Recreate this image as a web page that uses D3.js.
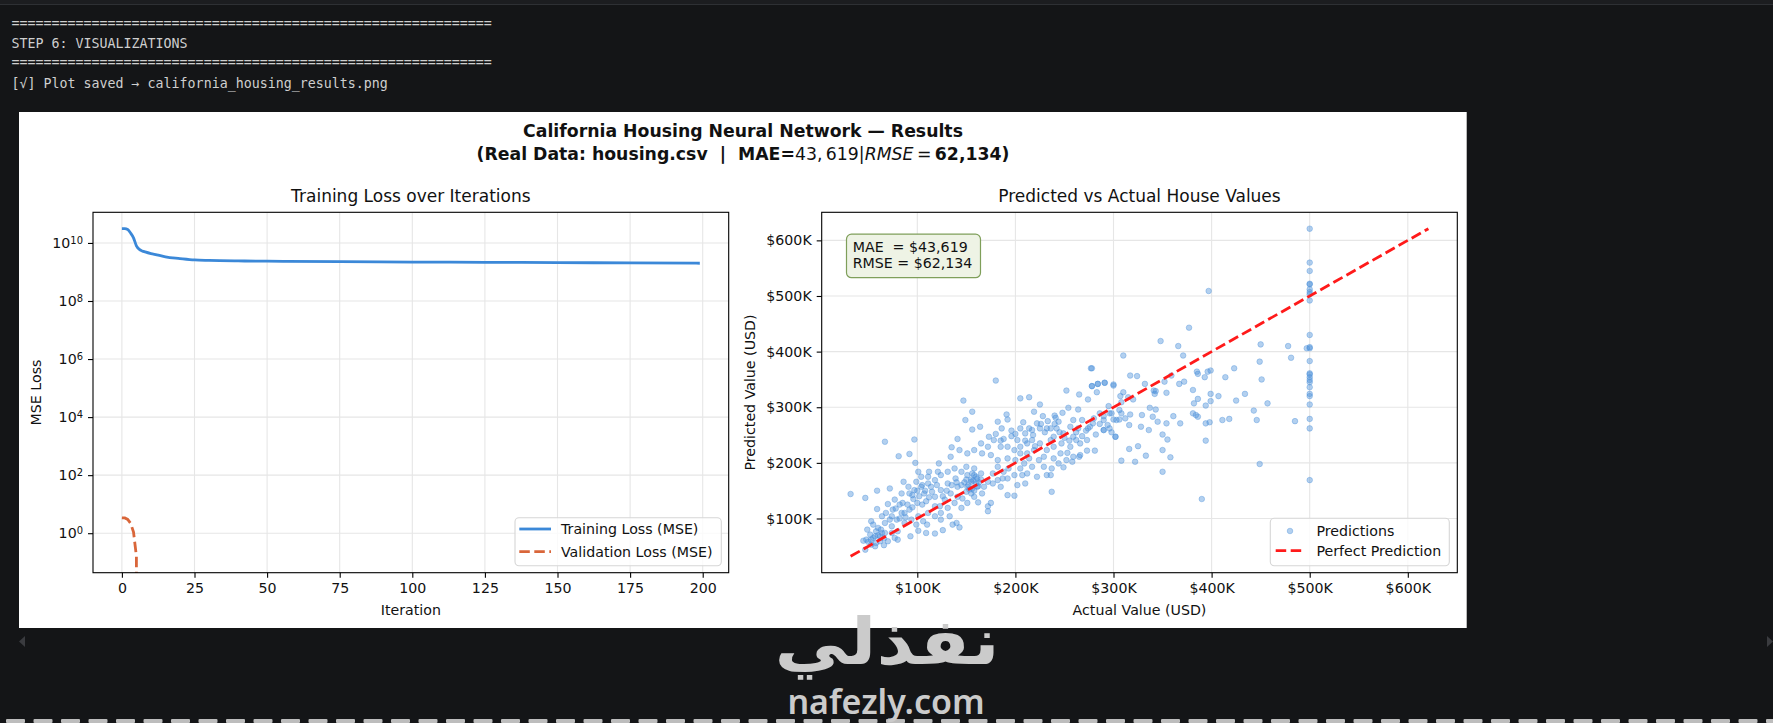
<!DOCTYPE html>
<html lang="en">
<head>
<meta charset="UTF-8">
<title>California Housing Neural Network — Results</title>
<script src="https://cdn.jsdelivr.net/npm/d3@7"></script>
<style>
  html, body { margin: 0; padding: 0; background: #141517; overflow: hidden; }
  svg { display: block; }
  .term { font-family: "DejaVu Sans Mono", monospace; font-size: 13.3px; fill: #cfcfcf; white-space: pre; }
  .fig text { font-family: "DejaVu Sans", sans-serif; fill: #111; white-space: pre; }
</style>
</head>
<body>
<svg id="chart" width="1773" height="723"></svg>
<script>
// ---------- data ----------
const termLines = [
  "============================================================",
  "STEP 6: VISUALIZATIONS",
  "============================================================",
  "[\u221a] Plot saved \u2192 california_housing_results.png"
];

// training / validation loss (log scale)
const iterTrain = [0, 1, 2, 3, 4, 5, 6, 7, 8, 10, 12, 15, 20, 25, 30, 40, 50, 75, 100, 125, 150, 175, 199];
const lossTrain = [3.1e10, 3.1e10, 2.9e10, 2.2e10, 1.5e10, 8e9, 6e9, 5.3e9, 4.9e9, 4.3e9, 3.9e9, 3.3e9,
                   2.9e9, 2.6e9, 2.5e9, 2.4e9, 2.35e9, 2.28e9, 2.2e9, 2.15e9, 2.1e9, 2.05e9, 2.0e9];
const iterVal  = [0, 1, 2, 3, 4, 5, 6];
const lossVal  = [3.4, 3.35, 3.0, 2.2, 1.1, 0.16, 0];
const iterTicks = [0, 25, 50, 75, 100, 125, 150, 175, 200];
const lossTicks = [1e0, 1e2, 1e4, 1e6, 1e8, 1e10];
const lossNames = ["Training Loss (MSE)", "Validation Loss (MSE)"];

// predicted vs actual, in $K : [actual, predicted]
const housePts = [
  [32,144],[47,137],[67,238],[97,242],[81,212],[92,216],[59,150],[72,154],[98,200],[147,312],[180,348],[156,292],
  [149,277],[164,265],[156,260],[141,243],[135,228],[143,223],[122,199],[134,211],[151,217],[277,370],[252,330],
  [265,323],[278,338],[284,342],[291,344],[300,339],[283,327],[274,314],[205,316],[214,318],[225,305],[219,292],
  [191,287],[192,278],[182,274],[173,247],[180,252],[188,243],[200,252],[208,273],[228,284],[233,275],[241,281],
  [244,274],[254,299],[264,296],[259,277],[274,262],[282,251],[290,259],[302,247],[273,241],[262,241],[253,218],
  [273,222],[265,211],[258,202],[249,192],[237,190],[232,178],[222,175],[212,181],[202,160],[192,142],[199,141],
  [237,148],[187,172],[177,181],[182,193],[192,208],[205,217],[217,241],[225,262],[239,247],[229,211],[217,193],
  [205,190],[199,178],[175,128],[172,122],[162,129],[172,113],[140,92],[143,84],[136,89],[126,79],[118,73],
  [133,104],[123,122],[110,89],[101,78],[93,68],[80,62],[66,52],[57,50],[45,60],[47,44],[53,53],[49,80],[53,95],
  [59,117],[70,126],[75,116],[84,110],[92,116],[85,128],[96,135],[84,145],[91,157],[86,166],[99,166],[104,175],
  [101,184],[111,175],[114,157],[107,145],[109,131],[118,139],[124,151],[131,163],[139,172],[150,193],[158,190],
  [165,181],[161,157],[155,145],[151,128],[145,119],[146,136],[158,139],[166,145],[161,172],[155,166],[151,157],
  [141,157],[134,145],[128,134],[118,122],[111,110],[101,104],[94,98],[87,92],[79,98],[74,86],[67,74],[62,68],
  [60,83],[67,92],[74,104],[64,104],[57,68],[52,71],[48,62],[62,59],[70,59],[77,65],[58,77],[53,62],[64,74],
  [55,89],[74,74],[80,77],[87,110],[82,125],[77,134],[92,145],[97,151],[104,157],[111,163],[118,169],[124,178],
  [112,184],[121,184],[131,184],[138,190],[145,184],[151,178],[156,181],[160,163],[156,154],[150,148],[141,139],
  [131,119],[138,128],[124,110],[118,104],[106,95],[99,89],[109,74],[124,98],[168,157],[172,166],[177,163],
  [182,169],[188,184],[182,205],[175,214],[166,217],[158,223],[165,235],[172,229],[178,241],[185,229],[192,229],
  [199,223],[205,229],[212,235],[202,241],[210,253],[217,259],[222,271],[232,262],[242,262],[249,253],[256,265],
  [264,262],[268,277],[279,271],[290,277],[296,289],[303,277],[247,235],[256,229],[246,217],[239,208],[229,193],
  [224,205],[214,208],[209,199],[200,205],[193,190],[207,178],[210,163],[192,172],[185,157],[232,223],[239,229],
  [225,235],[236,241],[219,223],[212,217],[259,211],[252,205],[266,214],[244,199],[236,178],[259,247],[266,235],
  [152,160],[155,170],[158,150],[160,175],[163,165],[148,165],[153,152],[157,168],[162,158],[150,170],[165,170],
  [158,178],[55,65],[60,70],[50,58],[63,80],[58,56],[66,64],[102,140],[108,150],[100,128],[95,120],[112,138],
  [105,125],
  [226,270],[230,255],[236,262],[240,270],[245,255],[250,245],[255,240],[262,255],[268,248],[272,258],[276,265],
  [280,280],[286,270],[294,268],[298,255],[240,285],[248,290],[218,250],[214,262],[205,262],[196,258],[186,262],
  [185,240],[196,248],[210,240],[220,230],
  [68,110],[72,98],[78,118],[82,100],[88,102],[90,125],[95,142],[100,150],[105,160],[115,148],[120,160],[126,140],
  [130,150],[135,160],[140,165],[145,160],
  [500,621],[500,560],[500,545],[500,522],[500,521],[500,512],[500,507],[500,503],[500,492],[500,430],[500,408],
  [500,406],[500,383],[500,361],[500,359],[500,354],[500,349],[500,345],[500,336],[500,324],[500,320],[500,305],
  [500,279],[500,262],[500,169],[497,406],[478,410],[481,389],[485,275],
  [397,509],[377,443],[348,419],[366,410],[371,393],[310,393],[450,413],[449,382],[451,350],[423,370],[414,354],
  [457,307],[434,324],[425,312],[407,320],[399,324],[399,311],[394,303],[385,364],[386,360],[396,364],[399,366],
  [393,354],[381,331],[386,315],[382,307],[381,289],[384,286],[386,283],[394,271],[398,273],[411,277],[418,279],
  [443,294],[446,277],[449,198],[390,135],[394,240],[367,342],[372,346],[359,357],[352,346],[354,326],[343,329],
  [341,330],[342,324],[332,342],[317,357],[324,356],[300,341],[291,344],[284,342],[278,338],[278,370],[310,327],
  [307,320],[315,318],[320,314],[308,309],[306,295],[308,289],[306,278],[312,280],[317,287],[316,268],[329,286],
  [328,265],[337,299],[343,296],[340,283],[345,274],[354,271],[361,284],[368,271],[336,259],[350,251],[355,242],
  [358,210],[350,223],[350,184],[333,213],[325,230],[316,225],[308,204],[322,202],[302,247],[290,259],[281,222],
  [290,284],[300,278],[298,289],[295,302],[286,289],[296,262]
];
const priceTicks = [100, 200, 300, 400, 500, 600];
const houseNames = ["Predictions", "Perfect Prediction"];
const maeUSD = 43619, rmseUSD = 62134;

// ---------- drawing ----------
const svg = d3.select("#chart");
const W = 1773, H = 723;
const fmt = d3.format(",");
const TICK = 14.2;

// terminal chrome
svg.append("rect").attr("width", W).attr("height", 4).attr("fill", "#1c1d20");
svg.append("line").attr("x1", 0).attr("x2", W).attr("y1", 4.5).attr("y2", 4.5)
  .attr("stroke", "#2e3034").attr("stroke-width", 1);
svg.selectAll("text.term").data(termLines).join("text")
  .attr("class", "term")
  .attr("x", 11.5)
  .attr("y", (d, i) => [28, 48, 67, 88][i])
  .text(d => d);

// white figure
const fig = svg.append("g").attr("class", "fig");
fig.append("rect").attr("x", 19).attr("y", 112).attr("width", 1447.7).attr("height", 516).attr("fill", "#fff");

// super title
fig.append("text").attr("x", 743).attr("y", 137).attr("text-anchor", "middle")
  .attr("font-size", 17.3).attr("font-weight", "bold")
  .text("California Housing Neural Network \u2014 Results");
const sub = fig.append("text").attr("x", 743).attr("y", 159.5).attr("text-anchor", "middle").attr("font-size", 17.3);
sub.append("tspan").attr("font-weight", "bold").text("(Real Data: housing.csv  |  MAE=");
sub.append("tspan").text(fmt(maeUSD).replace(",", ",\u2009") + "|");
sub.append("tspan").attr("font-style", "italic").text("RMSE");
sub.append("tspan").text("\u2009=\u2009");
sub.append("tspan").attr("font-weight", "bold").text(fmt(rmseUSD) + ")");

function styleAxis(g) {
  g.select(".domain").remove();
  g.selectAll(".tick line").attr("stroke", "#000").attr("stroke-width", 1.1);
  g.selectAll(".tick text").attr("font-size", TICK).attr("fill", "#111");
}

// ===== left: loss =====
const L = { x0: 93, x1: 728.7, y0: 212.3, y1: 572.7 };
const xIt = d3.scaleLinear().domain([0 - 0.05 * 199, 199 + 0.05 * 199]).range([L.x0, L.x1]);
const allLoss = lossTrain.concat(lossVal).filter(v => v > 0);
const lgMin = Math.log10(d3.min(allLoss)), lgMax = Math.log10(d3.max(allLoss));
const lgPad = 0.05 * (lgMax - lgMin);
const yLoss = d3.scaleLog().domain([10 ** (lgMin - lgPad), 10 ** (lgMax + lgPad)]).range([L.y1, L.y0]);

const gl = fig.append("g");
gl.append("clipPath").attr("id", "clipL").append("rect")
  .attr("x", L.x0).attr("y", L.y0).attr("width", L.x1 - L.x0).attr("height", L.y1 - L.y0);
gl.selectAll("line.gx").data(iterTicks).join("line")
  .attr("x1", d => xIt(d)).attr("x2", d => xIt(d)).attr("y1", L.y0).attr("y2", L.y1)
  .attr("stroke", "#e6e6e6").attr("stroke-width", 1.1);
gl.selectAll("line.gy").data(lossTicks).join("line")
  .attr("x1", L.x0).attr("x2", L.x1).attr("y1", d => yLoss(d)).attr("y2", d => yLoss(d))
  .attr("stroke", "#e6e6e6").attr("stroke-width", 1.1);

const lineT = d3.line().x((d, i) => xIt(iterTrain[i])).y(d => yLoss(d)).curve(d3.curveMonotoneX);
const lineV = d3.line().x((d, i) => xIt(iterVal[i])).y(d => yLoss(Math.max(d, 1e-300)));
gl.append("path").attr("d", lineT(lossTrain)).attr("fill", "none")
  .attr("stroke", "#3b88d8").attr("stroke-width", 2.8).attr("clip-path", "url(#clipL)");
gl.append("path").attr("d", lineV(lossVal)).attr("fill", "none")
  .attr("stroke", "#d9663a").attr("stroke-width", 2.8).attr("stroke-dasharray", "10.5,4.5")
  .attr("clip-path", "url(#clipL)");

gl.append("g").attr("transform", `translate(0,${L.y1})`)
  .call(d3.axisBottom(xIt).tickValues(iterTicks).tickSize(5).tickPadding(5).tickFormat(d3.format("d")))
  .call(styleAxis);
const ayl = gl.append("g").attr("transform", `translate(${L.x0},0)`)
  .call(d3.axisLeft(yLoss).tickValues(lossTicks).tickSize(5).tickPadding(5))
  .call(styleAxis);
ayl.selectAll(".tick text").text(null).each(function (d) {
  const t = d3.select(this);
  t.append("tspan").text("10");
  t.append("tspan").attr("dy", "-0.45em").attr("font-size", "0.7em").text(Math.round(Math.log10(d)));
});
gl.append("rect").attr("x", L.x0).attr("y", L.y0).attr("width", L.x1 - L.x0).attr("height", L.y1 - L.y0)
  .attr("fill", "none").attr("stroke", "#000").attr("stroke-width", 1.1);

gl.append("text").attr("x", (L.x0 + L.x1) / 2).attr("y", 202).attr("text-anchor", "middle")
  .attr("font-size", 17).text("Training Loss over Iterations");
gl.append("text").attr("x", (L.x0 + L.x1) / 2).attr("y", 614.5).attr("text-anchor", "middle")
  .attr("font-size", TICK).text("Iteration");
gl.append("text").attr("transform", `translate(40.5,${(L.y0 + L.y1) / 2}) rotate(-90)`)
  .attr("text-anchor", "middle").attr("font-size", TICK).text("MSE Loss");

// legend (left)
const lgL = gl.append("g");
lgL.append("rect").attr("x", 515).attr("y", 517.7).attr("width", 206.3).attr("height", 48).attr("rx", 4)
  .attr("fill", "#fff").attr("fill-opacity", 0.8).attr("stroke", "#d6d6d6").attr("stroke-width", 1.1);
lossNames.forEach((n, i) => {
  const y = 529 + i * 22.7;
  lgL.append("line").attr("x1", 519.3).attr("x2", 551).attr("y1", y).attr("y2", y)
    .attr("stroke", i ? "#d9663a" : "#3b88d8").attr("stroke-width", 2.8)
    .attr("stroke-dasharray", i ? "10.5,4.5" : null);
  lgL.append("text").attr("x", 561).attr("y", y + 5).attr("font-size", TICK).text(n);
});

// ===== right: scatter =====
const R = { x0: 821.7, x1: 1457.3, y0: 212.3, y1: 572.7 };
const vals = housePts.flat();
const lo = d3.min(vals), hi = d3.max(vals), pad = 0.05 * (hi - lo);
const xAct = d3.scaleLinear().domain([lo - pad, hi + pad]).range([R.x0, R.x1]);
const yPred = d3.scaleLinear().domain([lo - pad, hi + pad]).range([R.y1, R.y0]);

const gr = fig.append("g");
gr.selectAll("line.gx").data(priceTicks).join("line")
  .attr("x1", d => xAct(d)).attr("x2", d => xAct(d)).attr("y1", R.y0).attr("y2", R.y1)
  .attr("stroke", "#e6e6e6").attr("stroke-width", 1.1);
gr.selectAll("line.gy").data(priceTicks).join("line")
  .attr("x1", R.x0).attr("x2", R.x1).attr("y1", d => yPred(d)).attr("y2", d => yPred(d))
  .attr("stroke", "#e6e6e6").attr("stroke-width", 1.1);

gr.append("g").selectAll("circle").data(housePts).join("circle")
  .attr("cx", d => xAct(d[0])).attr("cy", d => yPred(d[1])).attr("r", 2.8)
  .attr("fill", "#4a90d9").attr("fill-opacity", 0.42)
  .attr("stroke", "#4a90d9").attr("stroke-opacity", 0.42).attr("stroke-width", 0.9);

gr.append("line").attr("x1", xAct(lo)).attr("y1", yPred(lo)).attr("x2", xAct(hi)).attr("y2", yPred(hi))
  .attr("stroke", "#ff1a1a").attr("stroke-width", 2.8).attr("stroke-dasharray", "10.5,4.5");

const money = d => `$${d}K`;
gr.append("g").attr("transform", `translate(0,${R.y1})`)
  .call(d3.axisBottom(xAct).tickValues(priceTicks).tickSize(5).tickPadding(5).tickFormat(money))
  .call(styleAxis);
gr.append("g").attr("transform", `translate(${R.x0},0)`)
  .call(d3.axisLeft(yPred).tickValues(priceTicks).tickSize(5).tickPadding(5).tickFormat(money))
  .call(styleAxis);
gr.append("rect").attr("x", R.x0).attr("y", R.y0).attr("width", R.x1 - R.x0).attr("height", R.y1 - R.y0)
  .attr("fill", "none").attr("stroke", "#000").attr("stroke-width", 1.1);

gr.append("text").attr("x", (R.x0 + R.x1) / 2).attr("y", 202).attr("text-anchor", "middle")
  .attr("font-size", 17).text("Predicted vs Actual House Values");
gr.append("text").attr("x", (R.x0 + R.x1) / 2).attr("y", 614.5).attr("text-anchor", "middle")
  .attr("font-size", TICK).text("Actual Value (USD)");
gr.append("text").attr("transform", `translate(754.5,${(R.y0 + R.y1) / 2}) rotate(-90)`)
  .attr("text-anchor", "middle").attr("font-size", TICK).text("Predicted Value (USD)");

// metrics box
gr.append("rect").attr("x", 846.5).attr("y", 234.2).attr("width", 134).attr("height", 43.5).attr("rx", 5)
  .attr("fill", "#eef3e5").attr("stroke", "#7f9f5a").attr("stroke-width", 1.2);
gr.append("text").attr("x", 852.7).attr("y", 251.7).attr("font-size", TICK).text(`MAE  = $${fmt(maeUSD)}`);
gr.append("text").attr("x", 852.7).attr("y", 268.3).attr("font-size", TICK).text(`RMSE = $${fmt(rmseUSD)}`);

// legend (right)
const lgR = gr.append("g");
lgR.append("rect").attr("x", 1270.3).attr("y", 518.3).attr("width", 179).attr("height", 47.4).attr("rx", 4)
  .attr("fill", "#fff").attr("fill-opacity", 0.8).attr("stroke", "#d6d6d6").attr("stroke-width", 1.1);
lgR.append("circle").attr("cx", 1290).attr("cy", 531).attr("r", 2.8)
  .attr("fill", "#4a90d9").attr("fill-opacity", 0.42)
  .attr("stroke", "#4a90d9").attr("stroke-opacity", 0.42).attr("stroke-width", 0.9);
lgR.append("line").attr("x1", 1275.7).attr("x2", 1304).attr("y1", 550.7).attr("y2", 550.7)
  .attr("stroke", "#ff1a1a").attr("stroke-width", 2.8).attr("stroke-dasharray", "10.5,4.5");
houseNames.forEach((n, i) => {
  lgR.append("text").attr("x", 1316.5).attr("y", 536 + i * 20).attr("font-size", TICK).text(n);
});

// ---------- page decorations ----------
svg.append("path").attr("d", "M19,641.5 L25,636 L25,647 Z").attr("fill", "#3a3b3f");
svg.append("path").attr("d", "M1773,641.5 L1767,636 L1767,647 Z").attr("fill", "#3a3b3f");
svg.append("g").selectAll("rect").data(d3.range(6, W, 27.5)).join("rect")
  .attr("x", d => d).attr("y", 719).attr("width", 19).attr("height", 4).attr("rx", 1)
  .attr("fill", "#bdbdbd");

const wm = svg.append("g").attr("fill", "#cbcbcb");
wm.append("text").attr("transform", "translate(887,664) scale(1.15,1)").attr("text-anchor", "middle")
  .attr("font-family", "DejaVu Sans").attr("font-weight", "bold").attr("font-size", 64).text("\u0646\u0641\u0630\u0644\u064a");
wm.append("text").attr("x", 886).attr("y", 714).attr("text-anchor", "middle")
  .attr("font-family", "Noto Sans").attr("font-weight", 600).attr("font-size", 34).text("nafezly.com");
</script>
</body>
</html>
